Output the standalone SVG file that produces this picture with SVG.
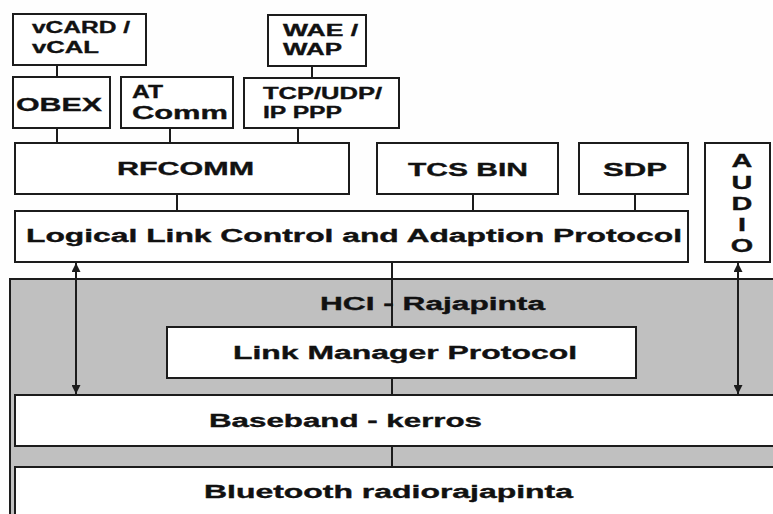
<svg xmlns="http://www.w3.org/2000/svg" width="773" height="514" viewBox="0 0 773 514">
  <style>
    .box { fill: #ffffff; stroke: #1c1c1c; stroke-width: 2; }
    .zone { fill: #c0c0c0; stroke: #1c1c1c; stroke-width: 2; }
    .link { stroke: #1c1c1c; stroke-width: 2; fill: none; }
    text { font-family: "Liberation Sans", Arial, sans-serif; font-weight: bold; fill: #111111; stroke: #111111; stroke-width: 0.35; }
    .s { font-size: 16px; }
    .m { font-size: 18px; }
    .l { font-size: 19px; }
  </style>
  <defs>
    <marker id="arrowHead" viewBox="0 0 10 10" refX="10" refY="5" markerWidth="4.5" markerHeight="4.5" orient="auto-start-reverse" markerUnits="strokeWidth">
      <path d="M0,0 L10,5 L0,10 Z" fill="#1c1c1c"/>
    </marker>
  </defs>

  <rect x="0" y="0" width="773" height="514" fill="#fefefe"/>

  <!-- grey hardware / HCI zone -->
  <g id="hci-zone">
    <rect class="zone" x="10" y="279" width="780" height="250"/>
  </g>

  <!-- connectors -->
  <g id="connectors">
    <line class="link" x1="57" y1="65" x2="57" y2="77"/>
    <line class="link" x1="312" y1="66" x2="312" y2="78"/>
    <line class="link" x1="57" y1="128" x2="57" y2="143"/>
    <line class="link" x1="170" y1="128" x2="170" y2="143"/>
    <line class="link" x1="298" y1="128" x2="298" y2="143"/>
    <line class="link" x1="177" y1="194" x2="177" y2="211"/>
    <line class="link" x1="473" y1="194" x2="473" y2="211"/>
    <line class="link" x1="635" y1="194" x2="635" y2="211"/>
    <line class="link" x1="392" y1="262" x2="392" y2="327"/>
    <line class="link" x1="392" y1="378" x2="392" y2="395"/>
    <line class="link" x1="392" y1="446" x2="392" y2="467"/>
    <line class="link" x1="76" y1="263" x2="76" y2="394" marker-start="url(#arrowHead)" marker-end="url(#arrowHead)"/>
    <line class="link" x1="738" y1="263" x2="738" y2="394" marker-start="url(#arrowHead)" marker-end="url(#arrowHead)"/>
  </g>

  <g id="hci-label">
    <text class="m" x="320" y="310" textLength="225" lengthAdjust="spacingAndGlyphs">HCI - Rajapinta</text>
  </g>

  <g id="vcard">
    <rect class="box" x="13" y="14" width="133" height="51"/>
    <text class="s" x="32" y="33" textLength="98" lengthAdjust="spacingAndGlyphs">vCARD /</text>
    <text class="s" x="32" y="53" textLength="67" lengthAdjust="spacingAndGlyphs">vCAL</text>
  </g>

  <g id="wae">
    <rect class="box" x="268" y="15" width="98" height="51"/>
    <text class="s" x="283" y="36" textLength="75" lengthAdjust="spacingAndGlyphs">WAE /</text>
    <text class="s" x="283" y="55" textLength="59" lengthAdjust="spacingAndGlyphs">WAP</text>
  </g>

  <g id="obex">
    <rect class="box" x="13" y="77" width="97" height="51"/>
    <text class="l" x="16" y="111" textLength="86" lengthAdjust="spacingAndGlyphs">OBEX</text>
  </g>

  <g id="atcomm">
    <rect class="box" x="121" y="77" width="112" height="51"/>
    <text class="l" x="132" y="98" textLength="31" lengthAdjust="spacingAndGlyphs">AT</text>
    <text class="l" x="132" y="119" textLength="96" lengthAdjust="spacingAndGlyphs">Comm</text>
  </g>

  <g id="tcpip">
    <rect class="box" x="244" y="78" width="155" height="50"/>
    <text class="s" x="263" y="99" textLength="119" lengthAdjust="spacingAndGlyphs">TCP/UDP/</text>
    <text class="s" x="263" y="118" textLength="79" lengthAdjust="spacingAndGlyphs">IP PPP</text>
  </g>

  <g id="rfcomm">
    <rect class="box" x="15" y="143" width="334" height="51"/>
    <text class="m" x="117" y="175" textLength="137" lengthAdjust="spacingAndGlyphs">RFCOMM</text>
  </g>

  <g id="tcsbin">
    <rect class="box" x="377" y="143" width="181" height="51"/>
    <text class="m" x="408" y="176" textLength="120" lengthAdjust="spacingAndGlyphs">TCS BIN</text>
  </g>

  <g id="sdp">
    <rect class="box" x="579" y="143" width="109" height="51"/>
    <text class="m" x="603" y="176" textLength="64" lengthAdjust="spacingAndGlyphs">SDP</text>
  </g>

  <g id="audio">
    <rect class="box" x="705" y="143" width="65" height="119"/>
    <g transform="translate(742 0) scale(1.6 1)">
      <text class="m" x="0" y="167" text-anchor="middle">A</text>
      <text class="m" x="0" y="189" text-anchor="middle">U</text>
      <text class="m" x="0" y="210" text-anchor="middle">D</text>
      <text class="m" x="0" y="231" text-anchor="middle">I</text>
      <text class="m" x="0" y="252" text-anchor="middle">O</text>
    </g>
  </g>

  <g id="l2cap">
    <rect class="box" x="15" y="211" width="673" height="51"/>
    <text class="m" x="26" y="242" textLength="656" lengthAdjust="spacingAndGlyphs">Logical Link Control and Adaption Protocol</text>
  </g>

  <g id="lmp">
    <rect class="box" x="167" y="327" width="469" height="51"/>
    <text class="m" x="233" y="359" textLength="344" lengthAdjust="spacingAndGlyphs">Link Manager Protocol</text>
  </g>

  <g id="baseband">
    <rect class="box" x="15" y="395" width="780" height="51"/>
    <text class="m" x="209" y="427" textLength="273" lengthAdjust="spacingAndGlyphs">Baseband - kerros</text>
  </g>

  <g id="radio">
    <rect class="box" x="15" y="467" width="780" height="60"/>
    <text class="m" x="204" y="498" textLength="369" lengthAdjust="spacingAndGlyphs">Bluetooth radiorajapinta</text>
  </g>
</svg>
